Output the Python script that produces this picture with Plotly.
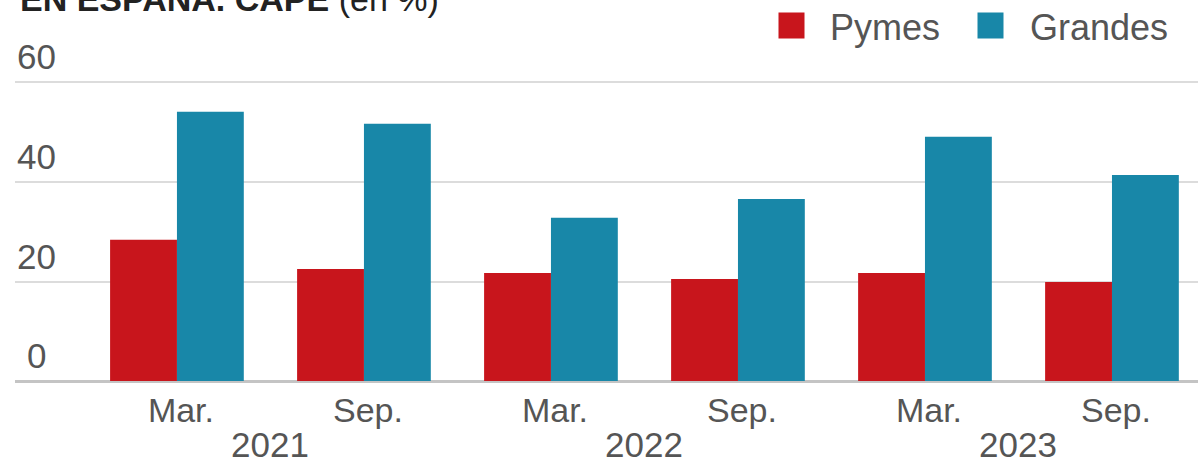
import plotly.graph_objects as go

# ---- data ----
months = ["Mar.", "Sep.", "Mar.", "Sep.", "Mar.", "Sep."]
years = ["2021", "2022", "2023"]
pymes = [28.4, 22.5, 21.7, 20.5, 21.7, 19.9]
grandes = [54.1, 51.7, 32.8, 36.6, 49.1, 41.4]
y_ticks = [0, 20, 40, 60]
series_names = ["Pymes", "Grandes"]
title_bold = "EN ESPAÑA. CAPE"
title_rest = " (en %)"

# ---- layout constants ----
W, H = 1198, 458
ML, MR, MT, MB = 15, 0, 80, 77
RED = "#c8151c"
TEAL = "#1887a8"
TXT = "#555555"
FONT = "Liberation Sans, Arial, sans-serif"

pw = W - ML - MR
ph = H - MT - MB


def px(xp):
    return (xp - ML) / pw


def py(yp):
    return (H - MB - yp) / ph


xpos = list(range(len(months)))

fig = go.Figure()
fig.add_trace(go.Bar(x=xpos, y=pymes, name=series_names[0], marker_color=RED,
                     marker_line_width=0, showlegend=False))
fig.add_trace(go.Bar(x=xpos, y=grandes, name=series_names[1], marker_color=TEAL,
                     marker_line_width=0, showlegend=False))

ann = []
# y tick labels above gridlines
for v in y_ticks:
    ann.append(dict(x=px(36), xref="paper", y=v, yref="y", text=str(v),
                    showarrow=False, xanchor="center", yanchor="bottom", yshift=4,
                    font=dict(family=FONT, size=35, color=TXT)))
# year labels
for i, yr in enumerate(years):
    ann.append(dict(x=2 * i + 0.5, xref="x", y=py(423), yref="paper", text=yr,
                    showarrow=False, xanchor="center", yanchor="top",
                    font=dict(family=FONT, size=35, color=TXT)))
# title (cut off at top)
ann.append(dict(x=px(18), xref="paper", y=py(20), yref="paper",
                text="<b>" + title_bold + "</b>" + title_rest, showarrow=False,
                xanchor="left", yanchor="bottom",
                font=dict(family=FONT, size=34, color="#222222")))
# legend
for name, col, sq_x, txt_x in [(series_names[0], RED, 791, 828), (series_names[1], TEAL, 991, 1028)]:
    ann.append(dict(x=px(sq_x), xref="paper", y=py(25), yref="paper", text=" ",
                    showarrow=False, xanchor="center", yanchor="middle",
                    width=25, height=25, bgcolor=col, borderpad=0,
                    font=dict(size=4)))
    ann.append(dict(x=px(txt_x), xref="paper", y=py(27), yref="paper", text=name,
                    showarrow=False, xanchor="left", yanchor="middle",
                    font=dict(family=FONT, size=36, color=TXT)))

fig.update_layout(
    width=W, height=H,
    margin=dict(l=ML, r=MR, t=MT, b=MB, pad=0),
    paper_bgcolor="white", plot_bgcolor="white",
    barmode="group", bargap=0.285, bargroupgap=0,
    showlegend=False,
    annotations=ann,
    xaxis=dict(range=[-0.866, 5.46], tickmode="array", tickvals=xpos, ticktext=months,
               showgrid=False, zeroline=False, showline=False, ticks="",
               ticklabelstandoff=6, ticklabelshift=4,
               tickfont=dict(family=FONT, size=34, color=TXT), fixedrange=True),
    yaxis=dict(range=[0, 60.5], tickmode="array", tickvals=y_ticks, showticklabels=False,
               showgrid=True, gridcolor="#dcdcdc", gridwidth=2,
               zeroline=True, zerolinecolor="#c4c4c4", zerolinewidth=3,
               showline=False, ticks="", fixedrange=True),
)

fig.write_html("out.html", config={"displayModeBar": False},
               post_script="document.body.style.margin='0';document.body.style.overflow='hidden';")
